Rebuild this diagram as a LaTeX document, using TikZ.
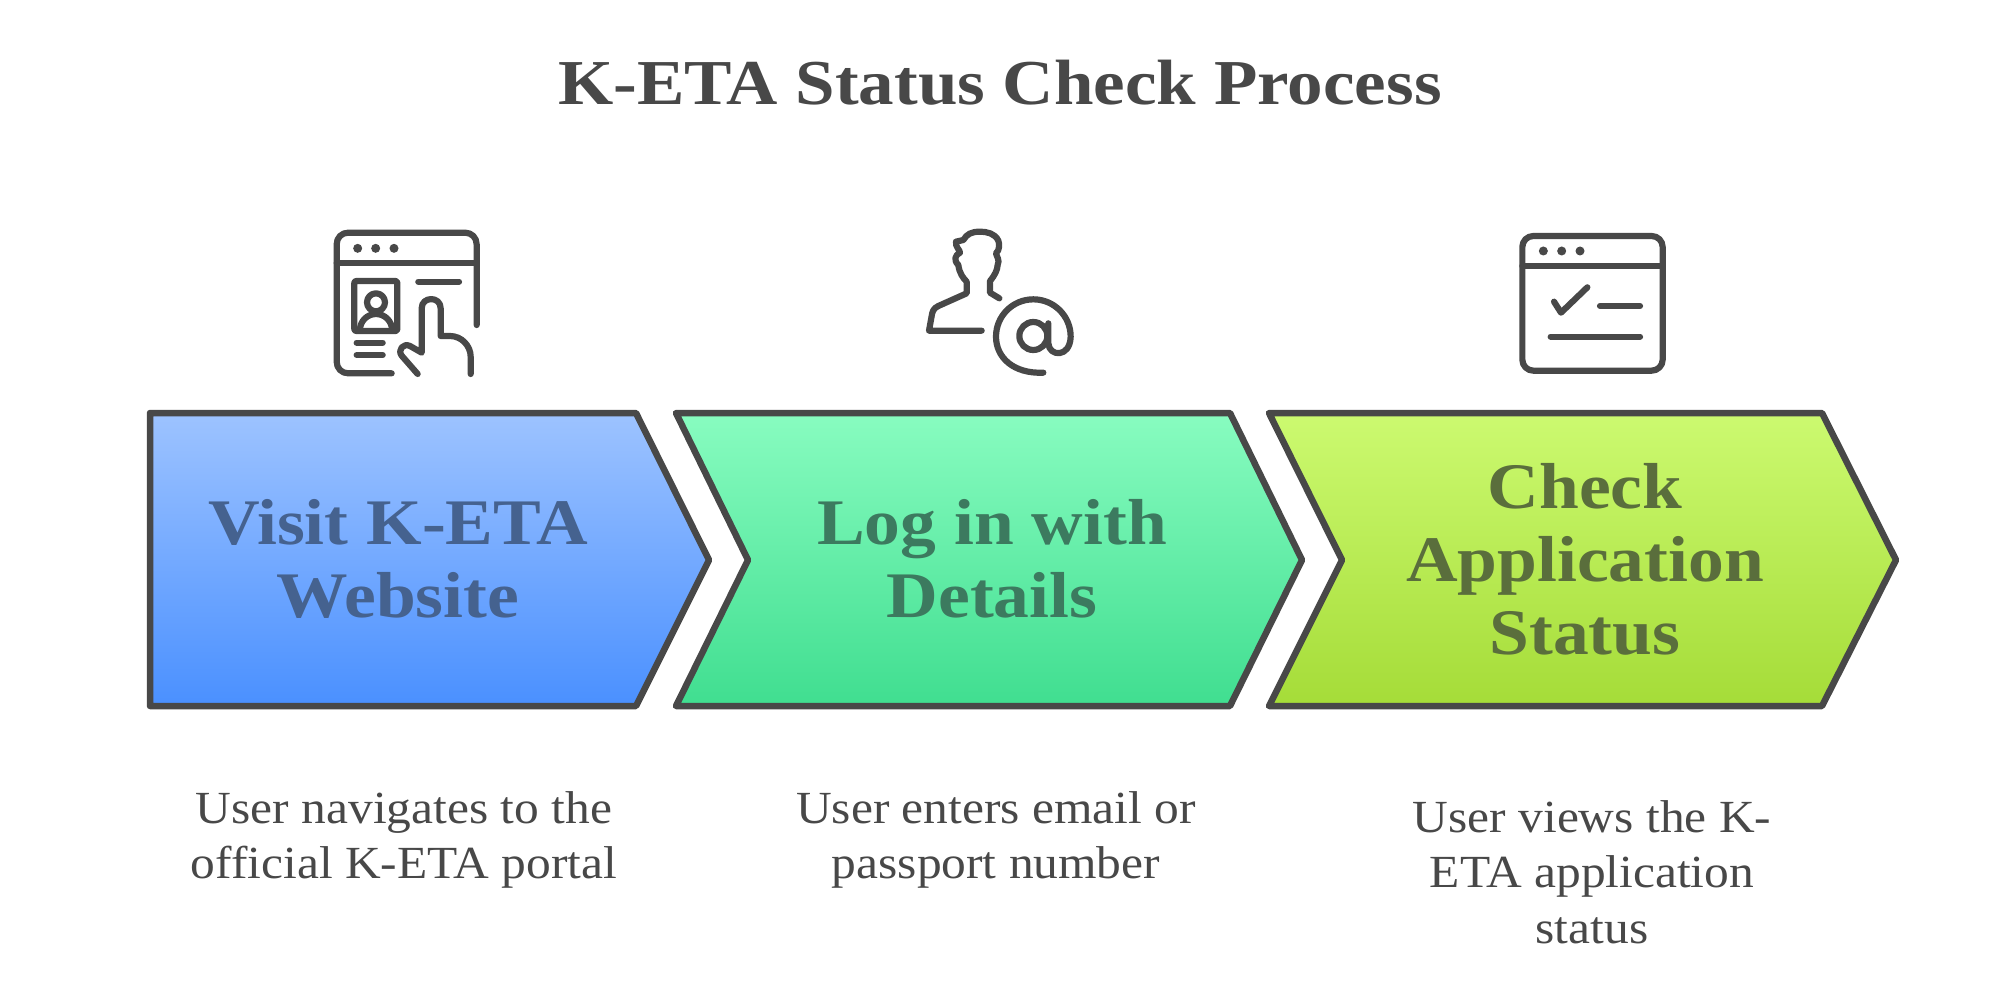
\documentclass[tikz,border=0pt]{standalone}
\usepackage{fontspec}
\setmainfont{Liberation Serif}[FakeStretch=1.11]
\newfontfamily\stepfont{Liberation Serif}[FakeStretch=1.10]
\newfontfamily\descfont{Liberation Serif}[FakeStretch=1.075]
\definecolor{ink}{HTML}{484848}
\definecolor{blueT}{HTML}{9DC3FF}
\definecolor{blueB}{HTML}{4A90FF}
\definecolor{greenT}{HTML}{88FCC0}
\definecolor{greenB}{HTML}{40DE90}
\definecolor{limeT}{HTML}{CCFA70}
\definecolor{limeB}{HTML}{A5DC38}
\definecolor{blueTxt}{HTML}{45628F}
\definecolor{greenTxt}{HTML}{3C7A5F}
\definecolor{limeTxt}{HTML}{5A6E3C}
\tikzset{
  chevron/.style={draw=ink,line width=6.5pt,line join=round},
  stepname/.style={font=\stepfont\fontsize{65}{73}\selectfont\bfseries,align=center,inner sep=0pt},
  desc/.style={font=\descfont\fontsize{46}{55.5}\selectfont,text=ink,align=center,inner sep=0pt},
  heading/.style={font=\fontsize{64}{70}\selectfont\bfseries,text=ink,inner sep=0pt},
  icon/.style={draw=ink,line width=6.2pt,line cap=round,line join=round},
  dot/.style={fill=ink},
}
\begin{document}
\begin{tikzpicture}[x=1pt,y=-1pt]
\useasboundingbox[fill=white] (0,0) rectangle (1999,1003);
\node[heading] (title) at (1000,83) {K-ETA Status Check Process};

% chevrons
\path[chevron,top color=blueT,bottom color=blueB] (150,413) -- (636,413) -- (709,560) -- (636,706) -- (150,706) -- cycle;
\path[chevron,top color=greenT,bottom color=greenB] (676,413) -- (1230,413) -- (1302,560) -- (1230,706) -- (676,706) -- (748,560) -- cycle;
\path[chevron,top color=limeT,bottom color=limeB] (1269,413) -- (1822,413) -- (1896,560) -- (1822,706) -- (1269,706) -- (1342,560) -- cycle;

\node[stepname,text=blueTxt] (s1) at (398,559) {Visit K-ETA\\Website};
\node[stepname,text=greenTxt] (s2) at (992,559) {Log in with\\Details};
\node[stepname,text=limeTxt] (s3) at (1585,559) {Check\\Application\\Status};

\node[desc] (d1) at (404,840) {User navigates to the\\official K-ETA portal};
\node[desc] (d2) at (996,840) {User enters email or\\passport number};
\node[desc] (d3) at (1592,872) {User views the K-\\ETA application\\status};

% icon 1
\begin{scope}[shift={(310,210)},x=0.33333pt,y=-0.33333pt]
\draw[icon] (245,490) -- (115,490) .. controls (95,490) and (80,475) .. (80,455) -- (80,103) .. controls (80,83) and (95,68) .. (115,68) -- (465,68) .. controls (485,68) and (500,83) .. (500,103) -- (500,345);
\draw[icon] (80,160) -- (500,160);
\foreach \d in {143,197,252} \fill[dot] (\d,115) circle[radius=4.5pt];
\draw[icon,rounded corners=2pt] (133,213) rectangle (262,363);
\draw[icon] (325,215) -- (447,215);
\draw[icon] (198,277) circle[radius=9pt];
\draw[icon] (150,360) .. controls (150,333) and (172,312) .. (198,312) .. controls (224,312) and (246,333) .. (246,360);
\draw[icon] (140,398) -- (218,398);
\draw[icon] (140,435) -- (218,435);
\draw[icon] (323,492) -- (275,437) .. controls (262,420) and (280,398) .. (300,408) -- (335,428) -- (335,295) .. controls (335,258) and (392,258) .. (392,295) -- (392,378) -- (420,378) .. controls (455,378) and (482,408) .. (482,440) -- (482,492);
\end{scope}

% icon 2
\begin{scope}[shift={(900,210)},x=0.33333pt,y=-0.33333pt]
\draw[icon] (298,265) -- (270,248) -- (270,213) .. controls (285,195) and (292,180) .. (293,165) .. controls (300,150) and (290,140) .. (288,130) .. controls (300,120) and (298,100) .. (295,92) .. controls (285,70) and (260,65) .. (240,65) .. controls (215,65) and (200,72) .. (190,90) -- (168,95) .. controls (165,110) and (180,120) .. (180,128) .. controls (165,135) and (160,150) .. (175,165) .. controls (178,190) and (190,205) .. (200,215) -- (200,250) -- (115,288) .. controls (100,295) and (97,305) .. (95,318) -- (87,362) -- (245,362);
\draw[icon] (400,378) circle[radius=14pt];
\draw[icon] (445,340) -- (445,400) .. controls (447,440) and (510,445) .. (512,380) .. controls (512,318) and (462,268) .. (400,268) .. controls (338,268) and (288,318) .. (288,380) .. controls (288,442) and (340,492) .. (430,488);
\end{scope}

% icon 3
\begin{scope}[shift={(1500,210)},x=0.33333pt,y=-0.33333pt]
\draw[icon,rounded corners=11pt] (67,78) rectangle (488,482);
\draw[icon] (67,168) -- (488,168);
\foreach \d in {130,185,240} \fill[dot] (\d,123) circle[radius=4.5pt];
\draw[icon] (162,275) -- (183,308) -- (262,232);
\draw[icon] (300,288) -- (420,288);
\draw[icon] (152,380) -- (420,380);
\end{scope}
\end{tikzpicture}
\end{document}
